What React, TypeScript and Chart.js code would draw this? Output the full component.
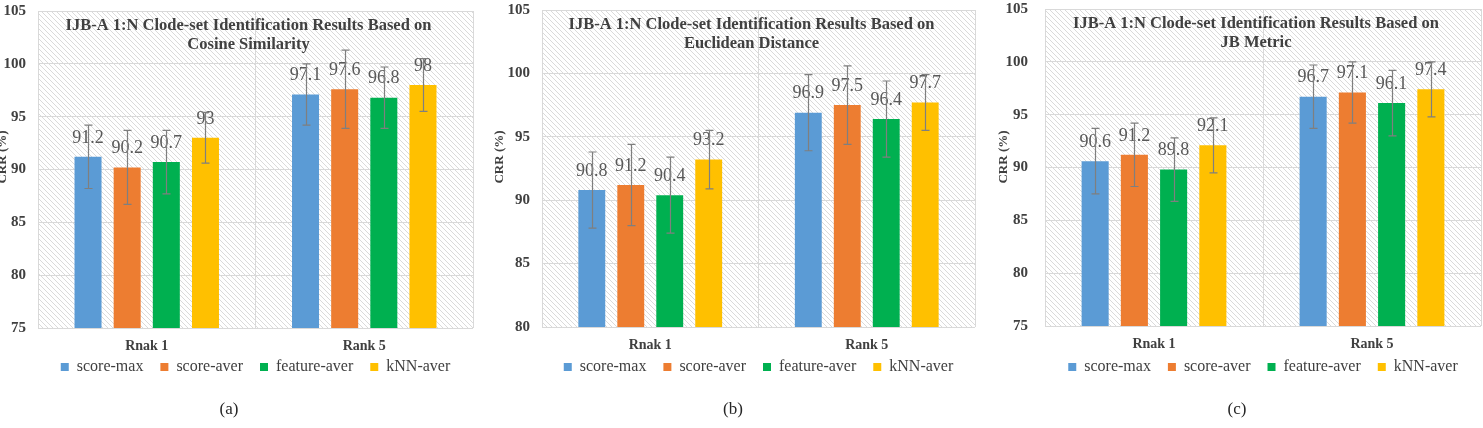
import React, { useEffect, useRef } from "react";
import { Chart, registerables } from "chart.js";

Chart.register(...registerables);

const FONT = '"Liberation Serif", "Times New Roman", Times, serif';

const categories = ["Rnak 1", "Rank 5"];
const seriesNames = ["score-max", "score-aver", "feature-aver", "kNN-aver"];
const seriesColors = ["#5B9BD5", "#ED7D31", "#00B050", "#FFC000"];
const yTickStep = 5;

// (a) Cosine similarity
const cosineScoreMax = [91.2, 97.1];
const cosineScoreAver = [90.2, 97.6];
const cosineFeatureAver = [90.7, 96.8];
const cosineKnnAver = [93, 98];
const cosineScoreMaxErr = [3.0, 2.9];
const cosineScoreAverErr = [3.5, 3.7];
const cosineFeatureAverErr = [3.0, 2.9];
const cosineKnnAverErr = [2.4, 2.5];

// (b) Euclidean distance
const euclidScoreMax = [90.8, 96.9];
const euclidScoreAver = [91.2, 97.5];
const euclidFeatureAver = [90.4, 96.4];
const euclidKnnAver = [93.2, 97.7];
const euclidScoreMaxErr = [3.0, 3.0];
const euclidScoreAverErr = [3.2, 3.1];
const euclidFeatureAverErr = [3.0, 3.0];
const euclidKnnAverErr = [2.3, 2.2];

// (c) JB metric
const jbScoreMax = [90.6, 96.7];
const jbScoreAver = [91.2, 97.1];
const jbFeatureAver = [89.8, 96.1];
const jbKnnAver = [92.1, 97.4];
const jbScoreMaxErr = [3.1, 3.0];
const jbScoreAverErr = [3.0, 2.9];
const jbFeatureAverErr = [3.0, 3.1];
const jbKnnAverErr = [2.6, 2.6];

const panelTitles = [
  ["IJB-A 1:N Clode-set Identification Results Based on", "Cosine Similarity"],
  ["IJB-A 1:N Clode-set Identification Results Based on", "Euclidean Distance"],
  ["IJB-A 1:N Clode-set Identification Results Based on", "JB Metric"],
];
const panelCaptions = ["(a)", "(b)", "(c)"];
const panelYRanges = [
  [75, 105],
  [80, 105],
  [75, 105],
];
const yAxisTitle = "CRR (%)";

type Panel = {
  values: number[][];
  errors: number[][];
  title: string[];
  caption: string;
  yMin: number;
  yMax: number;
  // layout (canvas-relative)
  x: number;
  w: number;
  plotTop: number;
  plotBottom: number;
  yAxisWidth: number;
  padRight: number;
  tickPad: number;
  yTitleX: number;
  captionX: number;
};

const H = 428;

const panels: Panel[] = [
  {
    values: [cosineScoreMax, cosineScoreAver, cosineFeatureAver, cosineKnnAver],
    errors: [cosineScoreMaxErr, cosineScoreAverErr, cosineFeatureAverErr, cosineKnnAverErr],
    title: panelTitles[0],
    caption: panelCaptions[0],
    yMin: panelYRanges[0][0],
    yMax: panelYRanges[0][1],
    x: 0,
    w: 490,
    plotTop: 11,
    plotBottom: 328,
    yAxisWidth: 38,
    padRight: 17,
    tickPad: 12,
    yTitleX: 3,
    captionX: 229,
  },
  {
    values: [euclidScoreMax, euclidScoreAver, euclidFeatureAver, euclidKnnAver],
    errors: [euclidScoreMaxErr, euclidScoreAverErr, euclidFeatureAverErr, euclidKnnAverErr],
    title: panelTitles[1],
    caption: panelCaptions[1],
    yMin: panelYRanges[1][0],
    yMax: panelYRanges[1][1],
    x: 490,
    w: 490,
    plotTop: 10,
    plotBottom: 327,
    yAxisWidth: 52,
    padRight: 5,
    tickPad: 12,
    yTitleX: 10,
    captionX: 243,
  },
  {
    values: [jbScoreMax, jbScoreAver, jbFeatureAver, jbKnnAver],
    errors: [jbScoreMaxErr, jbScoreAverErr, jbFeatureAverErr, jbKnnAverErr],
    title: panelTitles[2],
    caption: panelCaptions[2],
    yMin: panelYRanges[2][0],
    yMax: panelYRanges[2][1],
    x: 980,
    w: 503,
    plotTop: 9,
    plotBottom: 326,
    yAxisWidth: 65,
    padRight: 2,
    tickPad: 17,
    yTitleX: 24,
    captionX: 257,
  },
];

// legend geometry
const LEGEND_FONT = 16;
const LEGEND_PAD = 17;
const LEGEND_HEIGHT = LEGEND_FONT + LEGEND_PAD + 10;
const X_AXIS_BOTTOM = 355;
const LEGEND_TEXT_Y = 367;

function makeHatch(ctx: CanvasRenderingContext2D) {
  const s = 5;
  const c = document.createElement("canvas");
  c.width = s;
  c.height = s;
  const g = c.getContext("2d")!;
  g.fillStyle = "#ffffff";
  g.fillRect(0, 0, s, s);
  g.strokeStyle = "#dadada";
  g.lineWidth = 1;
  g.beginPath();
  g.moveTo(-1, -1);
  g.lineTo(s + 1, s + 1);
  g.moveTo(-1, s - 1);
  g.lineTo(1, s + 1);
  g.moveTo(s - 1, -1);
  g.lineTo(s + 1, 1);
  g.stroke();
  return ctx.createPattern(c, "repeat");
}

function PanelChart({ p }: { p: Panel }) {
  const ref = useRef<HTMLCanvasElement | null>(null);

  useEffect(() => {
    const canvas = ref.current;
    if (!canvas) return;
    const ctx0 = canvas.getContext("2d")!;
    const hatch = makeHatch(ctx0);

    const decor = {
      id: "panelDecor",
      afterLayout(chart: any) {
        // pull the legend row up closer to the category labels
        const lg = chart.legend;
        if (!lg) return;
        const shift = LEGEND_TEXT_Y - (lg.top + LEGEND_PAD + LEGEND_FONT / 2);
        lg.top += shift;
        lg.bottom += shift;
      },
      beforeDraw(chart: any) {
        const { ctx, chartArea: a } = chart;
        ctx.save();
        ctx.fillStyle = "#ffffff";
        ctx.fillRect(0, 0, chart.width, chart.height);
        if (hatch) {
          ctx.fillStyle = hatch;
          ctx.fillRect(a.left, a.top, a.right - a.left, a.bottom - a.top);
        }
        ctx.restore();
      },
      afterDatasetsDraw(chart: any) {
        const { ctx, chartArea: a } = chart;
        const yScale = chart.scales.y;
        ctx.save();
        // value labels
        ctx.font = `18px ${FONT}`;
        ctx.fillStyle = "#595959";
        ctx.textAlign = "center";
        ctx.textBaseline = "middle";
        p.values.forEach((vals, di) => {
          const meta = chart.getDatasetMeta(di);
          vals.forEach((v, i) => {
            const bar = meta.data[i];
            ctx.fillText(String(v), bar.x, yScale.getPixelForValue(v) - 19);
          });
        });
        // error bars
        ctx.strokeStyle = "#7f7f7f";
        ctx.lineWidth = 1.2;
        p.values.forEach((vals, di) => {
          const meta = chart.getDatasetMeta(di);
          vals.forEach((v, i) => {
            const e = p.errors[di][i];
            const x = Math.round(meta.data[i].x) + 0.5;
            const yTop = yScale.getPixelForValue(v + e);
            const yBot = yScale.getPixelForValue(v - e);
            ctx.beginPath();
            ctx.moveTo(x, yTop);
            ctx.lineTo(x, yBot);
            ctx.moveTo(x - 4, yTop);
            ctx.lineTo(x + 4, yTop);
            ctx.moveTo(x - 4, yBot);
            ctx.lineTo(x + 4, yBot);
            ctx.stroke();
          });
        });
        // title inside the plot area
        ctx.font = `bold 16.5px ${FONT}`;
        ctx.fillStyle = "#404040";
        const cx = (a.left + a.right) / 2 - 7;
        ctx.fillText(p.title[0], cx, a.top + 15);
        ctx.fillText(p.title[1], cx, a.top + 34);
        ctx.restore();
      },
      afterDraw(chart: any) {
        const { ctx } = chart;
        ctx.save();
        // y-axis title
        ctx.font = `bold 13px ${FONT}`;
        ctx.fillStyle = "#404040";
        ctx.textAlign = "center";
        ctx.textBaseline = "middle";
        ctx.translate(p.yTitleX, 157);
        ctx.rotate(-Math.PI / 2);
        ctx.fillText(yAxisTitle, 0, 0);
        ctx.restore();
        // caption
        ctx.save();
        ctx.font = `17px ${FONT}`;
        ctx.fillStyle = "#262626";
        ctx.textAlign = "center";
        ctx.textBaseline = "middle";
        ctx.fillText(p.caption, p.captionX, 410);
        ctx.restore();
      },
    };

    const xAxisHeight = X_AXIS_BOTTOM - p.plotBottom;
    const padBottom = H - X_AXIS_BOTTOM - LEGEND_HEIGHT;

    const chart = new Chart(canvas, {
      type: "bar",
      data: {
        labels: categories,
        datasets: p.values.map((vals, i) => ({
          label: seriesNames[i],
          data: vals,
          backgroundColor: seriesColors[i],
          borderWidth: 0,
          categoryPercentage: 0.72,
          barPercentage: 0.69,
        })),
      },
      options: {
        responsive: false,
        animation: false,
        devicePixelRatio: 1,
        layout: {
          padding: { left: 0, right: p.padRight, top: p.plotTop, bottom: padBottom },
        },
        plugins: {
          legend: {
            position: "bottom",
            fullSize: false,
            labels: {
              boxWidth: 8,
              boxHeight: 8,
              padding: LEGEND_PAD,
              color: "#404040",
              font: { family: FONT, size: LEGEND_FONT },
            },
          },
          tooltip: { enabled: false },
          title: { display: false },
        },
        scales: {
          x: {
            grid: { offset: true, color: "#d9d9d9", drawTicks: false },
            border: { display: false },
            ticks: {
              color: "#404040",
              font: { family: FONT, size: 14, weight: "bold" },
              padding: 10,
            },
            afterFit: (s: any) => {
              s.height = xAxisHeight;
            },
          },
          y: {
            min: p.yMin,
            max: p.yMax,
            ticks: {
              stepSize: yTickStep,
              color: "#404040",
              font: { family: FONT, size: 15, weight: "bold" },
              padding: p.tickPad,
            },
            grid: { color: "#d9d9d9", drawTicks: false },
            border: { display: false },
            afterFit: (s: any) => {
              s.width = p.yAxisWidth;
              s.paddingTop = 0;
              s.paddingBottom = 0;
            },
          },
        },
      } as any,
      plugins: [decor],
    });
    return () => chart.destroy();
  }, [p]);

  return (
    <div style={{ position: "absolute", left: p.x, top: 0, width: p.w, height: H }}>
      <canvas ref={ref} width={p.w} height={H} style={{ width: p.w, height: H, display: "block" }} />
    </div>
  );
}

export default function App() {
  return (
    <div
      style={{
        position: "absolute",
        left: 0,
        top: 0,
        width: 1483,
        height: H,
        background: "#ffffff",
        overflow: "hidden",
      }}
    >
      {panels.map((p, i) => (
        <PanelChart key={i} p={p} />
      ))}
    </div>
  );
}
